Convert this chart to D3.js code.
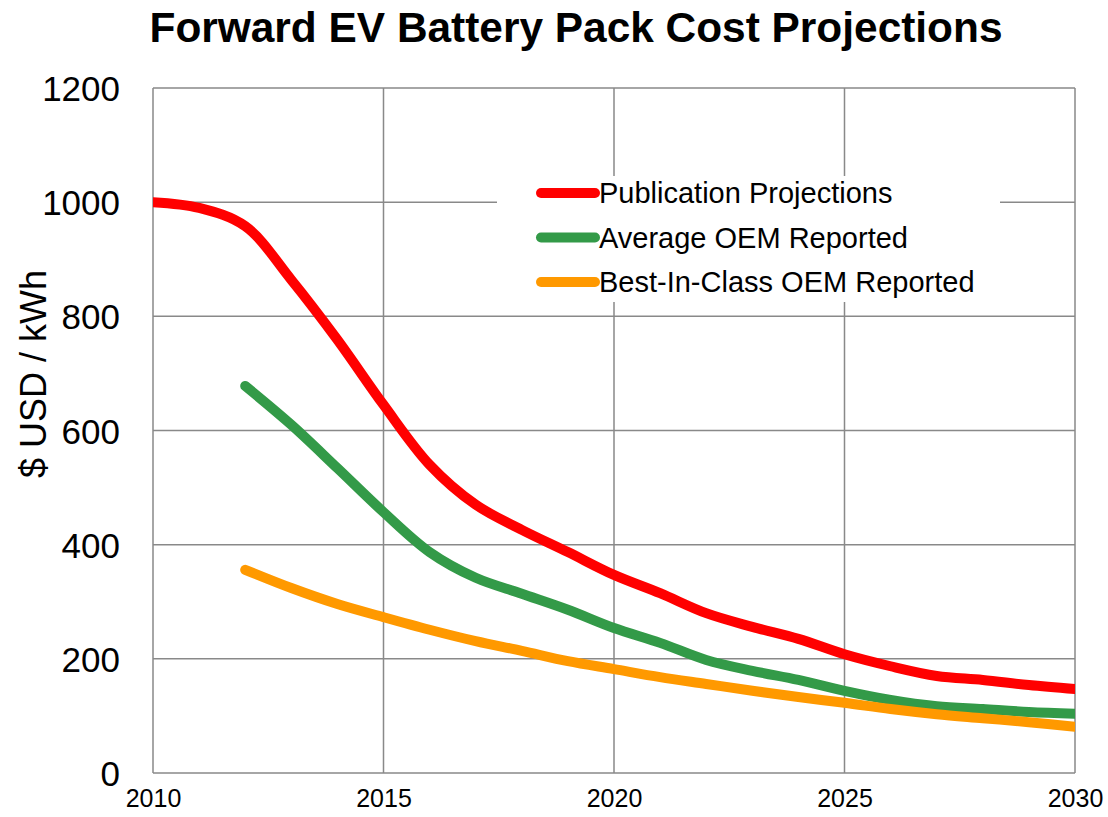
<!DOCTYPE html>
<html>
<head>
<meta charset="utf-8">
<script src="https://cdn.jsdelivr.net/npm/d3@7"></script>
<style>
  body { margin: 0; background: #fff; }
  text { font-family: "Liberation Sans", Arial, sans-serif; fill: #000; }
</style>
</head>
<body>
<svg id="chart" width="1108" height="817"></svg>
<script>
// values
var years = [2010, 2011, 2012, 2013, 2014, 2015, 2016, 2017, 2018, 2019, 2020,
             2021, 2022, 2023, 2024, 2025, 2026, 2027, 2028, 2029, 2030]
var publication = [1000, 990, 958, 864, 759, 645, 540, 470, 426, 387, 347,
                   315, 280, 256, 235, 208, 187, 170, 163, 154, 147]
var averageOem = [null, null, 678, 610, 534, 457, 387, 342, 314, 286, 254,
                  228, 198, 179, 163, 144, 128, 117, 112, 107, 104]
var bestOem = [null, null, 356, 324, 296, 273, 251, 231, 214, 196, 182,
               168, 156, 144, 133, 123, 112, 103, 96, 89, 81]
var seriesNames = ["Publication Projections", "Average OEM Reported", "Best-In-Class OEM Reported"]
var seriesColors = ["#ff0000", "#339a48", "#ff9900"]
var yTicks = [0, 200, 400, 600, 800, 1000, 1200]
var xTicks = [2010, 2015, 2020, 2025, 2030]

var svg = d3.select("#chart")
var plotLeft = 153, plotRight = 1075, plotTop = 88, plotBottom = 773

var x = d3.scaleLinear().domain([2010, 2030]).range([plotLeft, plotRight])
var y = d3.scaleLinear().domain([0, 1200]).range([plotBottom, plotTop])

// title
svg.append("text")
    .attr("x", 576).attr("y", 42)
    .attr("text-anchor", "middle")
    .attr("textLength", 853)
    .attr("lengthAdjust", "spacingAndGlyphs")
    .style("font-size", "42px").style("font-weight", "bold")
    .text("Forward EV Battery Pack Cost Projections")

// grid
svg.append("g").selectAll("line")
    .data(yTicks)
    .enter().append("line")
    .attr("x1", plotLeft).attr("x2", plotRight)
    .attr("y1", d => y(d)).attr("y2", d => y(d))
    .attr("stroke", "#898989").attr("stroke-width", 1.5)

svg.append("g").selectAll("line")
    .data(xTicks)
    .enter().append("line")
    .attr("x1", d => x(d)).attr("x2", d => x(d))
    .attr("y1", plotTop).attr("y2", plotBottom)
    .attr("stroke", "#898989").attr("stroke-width", 1.5)

// axis labels
var yAxis = d3.axisLeft(y).tickValues(yTicks).tickFormat(d3.format("d")).tickSize(0).tickPadding(33)
var gy = svg.append("g").attr("transform", "translate(" + plotLeft + ",0)").call(yAxis)
gy.select(".domain").remove()
gy.selectAll("text").style("font-size", "35px").attr("dy", "0.36em")

var xAxis = d3.axisBottom(x).tickValues(xTicks).tickFormat(d3.format("d")).tickSize(0).tickPadding(16)
var gx = svg.append("g").attr("transform", "translate(0," + plotBottom + ")").call(xAxis)
gx.select(".domain").remove()
gx.selectAll("text").style("font-size", "25px")

svg.append("text")
    .attr("transform", "translate(46,374) rotate(-90)")
    .attr("text-anchor", "middle")
    .style("font-size", "36px")
    .text("$ USD / kWh")

// lines
svg.append("clipPath").attr("id", "plot-clip")
    .append("rect")
    .attr("x", plotLeft).attr("y", plotTop)
    .attr("width", plotRight - plotLeft).attr("height", plotBottom - plotTop)

var line = d3.line()
    .defined(d => d[1] != null)
    .x(d => x(d[0]))
    .y(d => y(d[1]))
    .curve(d3.curveCatmullRom.alpha(0.5))

var allSeries = [publication, averageOem, bestOem]
svg.append("g").attr("clip-path", "url(#plot-clip)")
    .selectAll("path")
    .data(allSeries)
    .enter().append("path")
    .attr("d", vals => line(years.map((yr, i) => [yr, vals[i]])))
    .attr("fill", "none")
    .attr("stroke", (d, i) => seriesColors[i])
    .attr("stroke-width", 10)
    .attr("stroke-linecap", "round")
    .attr("stroke-linejoin", "round")

// legend
var legend = svg.append("g")
legend.append("rect")
    .attr("x", 497).attr("y", 176)
    .attr("width", 503).attr("height", 126)
    .attr("fill", "#fff")

var rows = legend.selectAll("g.row")
    .data(seriesNames)
    .enter().append("g")
    .attr("class", "row")
    .attr("transform", (d, i) => "translate(0," + (193 + i * 44.5) + ")")

rows.append("line")
    .attr("x1", 541).attr("x2", 595)
    .attr("y1", 0).attr("y2", 0)
    .attr("stroke", (d, i) => seriesColors[i])
    .attr("stroke-width", 10)
    .attr("stroke-linecap", "round")

rows.append("text")
    .attr("x", 599).attr("y", 0)
    .attr("dy", "0.36em")
    .style("font-size", "29px")
    .text(d => d)
</script>
</body>
</html>
